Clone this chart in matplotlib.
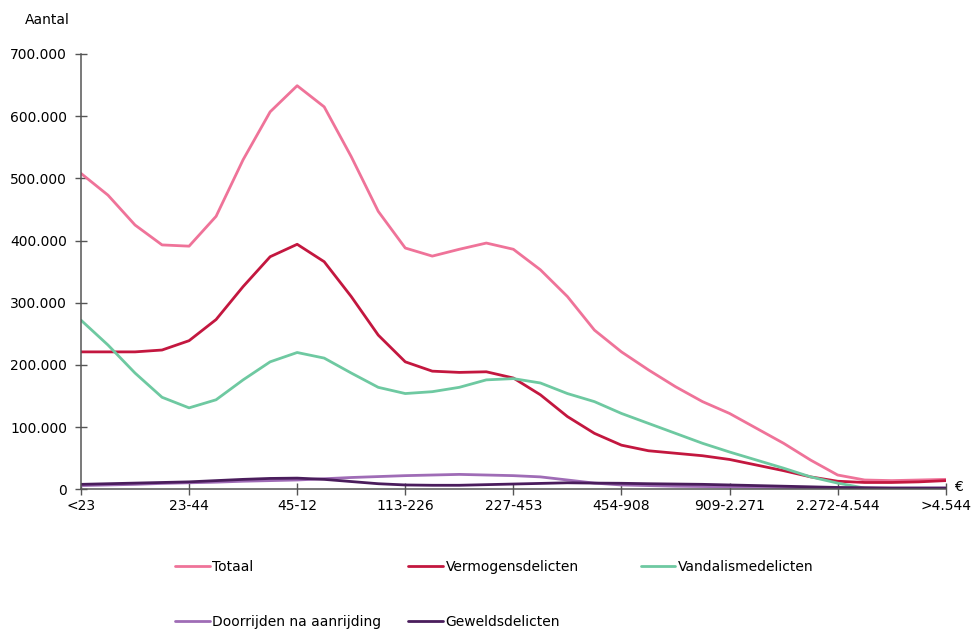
import numpy as np
import matplotlib
matplotlib.use("Agg")
import matplotlib.pyplot as plt
from matplotlib.ticker import FuncFormatter

categories = ["<23", "23-44", "45-12", "113-226", "227-453", "454-908",
              "909-2.271", "2.272-4.544", ">4.544"]

# readings at every quarter category step, in thousands
totaal = [508, 473, 425, 393, 391, 439, 530, 607, 649,
          615, 535, 447, 388, 375, 386, 396, 386,
          353, 310, 256, 221, 192, 165, 141, 122,
          98, 74, 47, 23, 15, 14, 15, 16]
vermogen = [221, 221, 221, 224, 239, 273, 326, 374, 394,
            366, 310, 248, 205, 190, 188, 189, 179,
            152, 117, 90, 71, 62, 58, 54, 48,
            39, 30, 20, 13, 11, 11, 12, 14]
vandalisme = [272, 232, 187, 148, 131, 144, 176, 205, 220,
              211, 187, 164, 154, 157, 164, 176, 178,
              171, 154, 141, 122, 106, 90, 74, 60,
              47, 34, 20, 10, 2, 1, 0.5, 0.5]
doorrijden = [6, 7, 8, 9.5, 10.5, 11.5, 13, 14, 15,
              17, 19, 20.5, 22, 23, 24, 23, 22,
              20, 15, 10, 7, 6, 5, 4.5, 4,
              3.5, 3, 2.5, 2, 2, 2, 2, 2]
geweld = [8, 9, 10, 11, 12, 14, 16, 17.5, 18,
          16, 12.5, 9, 7, 6.5, 6.5, 7.5, 8.5,
          9.5, 10.5, 10, 9.7, 9, 8.5, 8, 7,
          6, 5, 4, 3, 2.5, 2, 2, 2]

names = ["Totaal", "Vermogensdelicten", "Vandalismedelicten",
         "Doorrijden na aanrijding", "Geweldsdelicten"]
series = [totaal, vermogen, vandalisme, doorrijden, geweld]
colors = ["#ef7399", "#c3173f", "#6ec9a1", "#9f6cb6", "#4a1d5c"]

x = np.arange(len(totaal)) / 4.0

fig = plt.figure(figsize=(9.72, 6.3), dpi=100)
ax = fig.add_axes([0.0833, 0.2233, 0.8897, 0.691])

lines = []
for name, vals, c in zip(names, series, colors):
    ln, = ax.plot(x, np.array(vals) * 1000, color=c, lw=2, label=name,
                  solid_capstyle="round", solid_joinstyle="round")
    lines.append(ln)

ax.set_xlim(0, 8)
ax.set_ylim(0, 700000)
ax.set_xticks(range(len(categories)))
ax.set_xticklabels(categories)
ax.set_yticks(range(0, 700001, 100000))
ax.yaxis.set_major_formatter(FuncFormatter(lambda v, p: "0" if v == 0 else f"{int(v):,}".replace(",", ".")))

for s in ["top", "right"]:
    ax.spines[s].set_visible(False)
for s in ["left", "bottom"]:
    ax.spines[s].set_color("#555555")
    ax.spines[s].set_linewidth(1.1)
ax.tick_params(direction="inout", length=8, width=1, color="#555555",
               labelsize=10, labelcolor="black")
ax.tick_params(axis="x", pad=3)
ax.tick_params(axis="y", pad=6)

fig.text(0.026, 0.968, "Aantal", fontsize=10, ha="left", va="center")
fig.text(0.982, 0.227, "€", fontsize=10, ha="left", va="center")

# legend entries placed individually
pos = [(0.180, 0.100), (0.420, 0.100), (0.659, 0.100),
       (0.180, 0.013), (0.420, 0.013)]
for ln, (px, py) in zip(lines, pos):
    fig.legend([ln], [ln.get_label()], loc="center left",
               bbox_to_anchor=(px, py), frameon=False, fontsize=10,
               handlelength=2.5, handletextpad=0.2, borderpad=0,
               borderaxespad=0)

fig.savefig("out.png", dpi=100)
